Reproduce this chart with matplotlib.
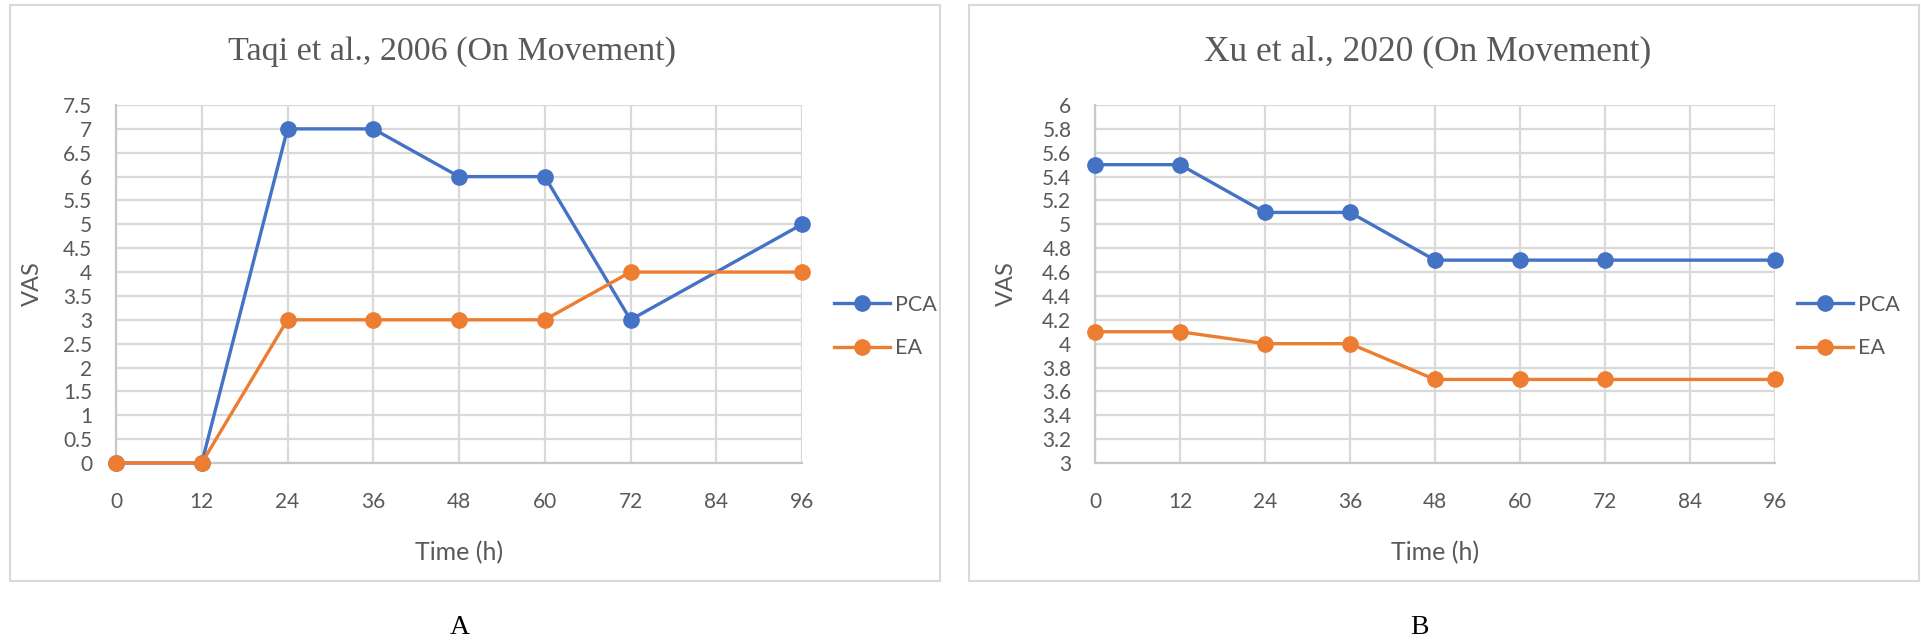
import matplotlib
matplotlib.use("Agg")
import matplotlib.pyplot as plt
from matplotlib.patches import Rectangle
from matplotlib.ticker import FormatStrFormatter, MultipleLocator

# ================= Data ================= #
time_h = [0, 12, 24, 36, 48, 60, 72, 96]
xticks = [0, 12, 24, 36, 48, 60, 72, 84, 96]

# Taqi et al., 2006
taqi_pca = [0, 0, 7, 7, 6, 6, 3, 5]
taqi_ea = [0, 0, 3, 3, 3, 3, 4, 4]

# Xu et al., 2020
xu_pca = [5.5, 5.5, 5.1, 5.1, 4.7, 4.7, 4.7, 4.7]
xu_ea = [4.1, 4.1, 4.0, 4.0, 3.7, 3.7, 3.7, 3.7]

titles = ["Taqi et al., 2006 (On Movement)", "Xu et al., 2020 (On Movement)"]
captions = ["A", "B"]

# ================= Style ================= #
W, H = 1921, 642
blue = "#4472C4"
orange = "#ED7D31"
grid_c = "#d9d9d9"
text_c = "#595959"
sans = ["Lato", "DejaVu Sans"]
serif = ["Liberation Serif", "DejaVu Serif"]

plt.rcParams["font.family"] = sans

fig = plt.figure(figsize=(W / 100, H / 100), dpi=100)


def px_axes(x0, x1, y0, y1):
    # pixel box -> figure fraction axes
    return fig.add_axes([x0 / W, 1 - y1 / H, (x1 - x0) / W, (y1 - y0) / H])


def draw_panel(ax, pca, ea, ymin, ymax, ystep, legx, ylab_x):
    ax.plot(time_h, pca, color=blue, lw=2.4, marker="o", ms=11,
            clip_on=False, zorder=3, label="PCA")
    ax.plot(time_h, ea, color=orange, lw=2.4, marker="o", ms=11,
            clip_on=False, zorder=3, label="EA")
    ax.set_xlim(0, 96)
    ax.set_ylim(ymin, ymax)
    ax.set_xticks(xticks)
    ax.yaxis.set_major_locator(MultipleLocator(ystep))
    ax.yaxis.set_major_formatter(FormatStrFormatter("%g"))
    ax.grid(True, color=grid_c, lw=1.6, zorder=0)
    ax.set_axisbelow(True)
    for s in ["top", "right"]:
        ax.spines[s].set_visible(False)
    for s in ["left", "bottom"]:
        ax.spines[s].set_color("#c8c8c8")
        ax.spines[s].set_linewidth(1.6)
    ax.tick_params(axis="both", length=0, labelsize=15, labelcolor=text_c)
    ax.tick_params(axis="y", pad=17)
    ax.tick_params(axis="x", pad=21)
    ax.set_xlabel("Time (h)", fontsize=18, color=text_c, va="center")
    ax.xaxis.set_label_coords(0.5, -0.251)
    ax.set_ylabel("VAS", fontsize=17, color=text_c, va="center")
    ax.yaxis.set_label_coords(ylab_x, 0.5)
    ax.legend(loc="center left", bbox_to_anchor=(legx, 0.381), frameon=False,
              fontsize=15.5, labelcolor=text_c, handlelength=2.6,
              handletextpad=0.25, labelspacing=1.1, borderpad=0,
              borderaxespad=0)


ax1 = px_axes(116, 802, 105, 463)
draw_panel(ax1, taqi_pca, taqi_ea, 0, 7.5, 0.5, 1.0466, -0.1224)

ax2 = px_axes(1095, 1775, 105, 463)
draw_panel(ax2, xu_pca, xu_ea, 3, 6, 0.2, 1.032, -0.1309)

# chart borders
for x0, x1 in [(10, 940), (969, 1919)]:
    fig.patches.append(Rectangle((x0 / W, 1 - 581 / H), (x1 - x0) / W,
                                 (581 - 5) / H, transform=fig.transFigure,
                                 fill=False, edgecolor=grid_c, lw=1.5))

# titles and captions
for xc, t, fs in zip([452, 1428], titles, [24.5, 25.5]):
    fig.text(xc / W, 1 - 52 / H, t, ha="center", va="center", fontsize=fs,
             color=text_c, family=serif)
for xc, c in zip([460, 1419], captions):
    fig.text(xc / W, 1 - 627 / H, c, ha="center", va="center", fontsize=20,
             color="black", family=serif)

fig.savefig("out.png", dpi=100)
